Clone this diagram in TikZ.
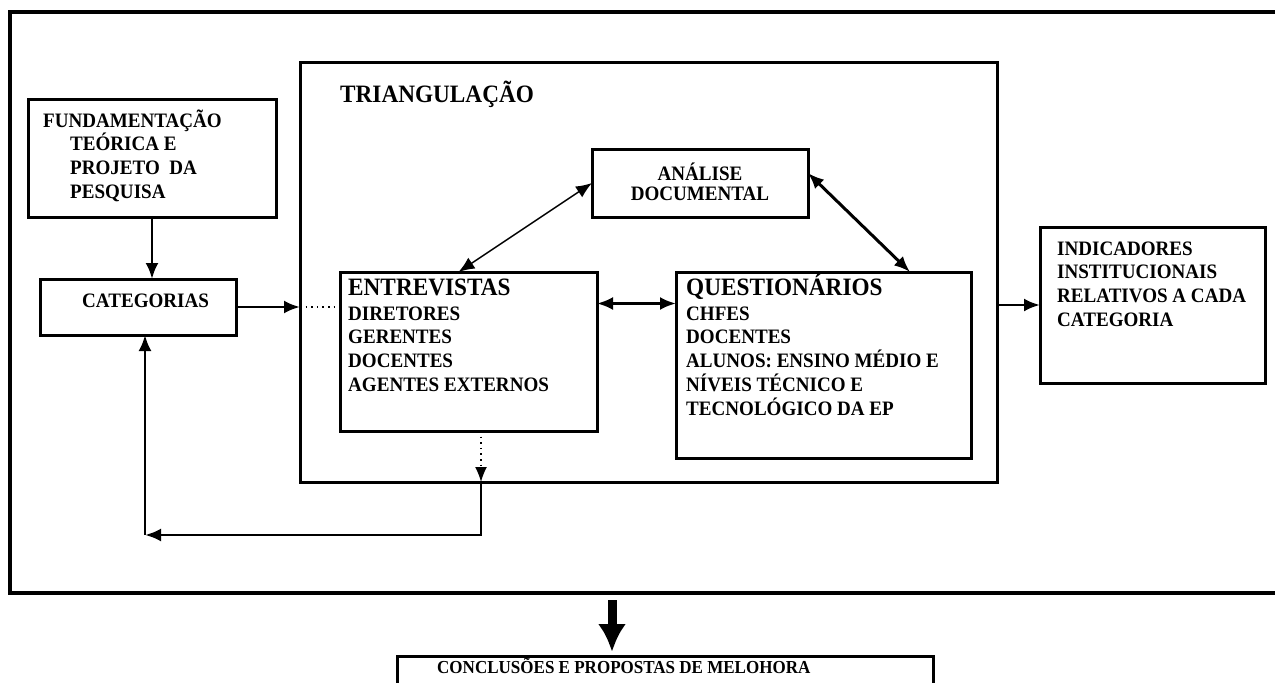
\documentclass[tikz,border=0pt]{standalone}
\usepackage{fontspec}
\setmainfont{Liberation Serif}[FakeStretch=0.93]
\usetikzlibrary{arrows.meta}
\newcommand{\firstline}{\rule{0pt}{1em}}

\begin{document}
\begin{tikzpicture}[x=1pt,y=-1pt,
  box/.style={draw, line width=3pt, inner sep=0pt, outer sep=0pt, anchor=north west},
  lbl/.style={inner sep=0pt, anchor=north west, align=left, font=\bfseries\fontsize{20.5}{23.7}\selectfont},
  head/.style={inner sep=0pt, anchor=north west, font=\bfseries\fontsize{25}{27}\selectfont},
  link/.style={line width=2.8pt, -{Latex[length=16pt,width=13pt]}},
  twoway/.style={line width=2.8pt, {Latex[length=16pt,width=13pt]}-{Latex[length=16pt,width=13pt]}},
  dots/.style={line width=1.5pt, dash pattern=on 1.6pt off 4pt}]
\useasboundingbox (0,0) rectangle (1275,683);
% outer frame, open on the right
\draw[line width=3.2pt] (1280,12) -- (10,12) -- (10,593) -- (1280,593);
% boxes
\node[box, minimum width=248pt, minimum height=118pt] (fund) at (28,99) {};
\node[box, minimum width=196pt, minimum height=56pt] (cat) at (40,279) {};
\node[box, minimum width=697pt, minimum height=420pt] (trig) at (300,62) {};
\node[box, minimum width=216pt, minimum height=68pt] (ana) at (592,149) {};
\node[box, minimum width=257pt, minimum height=159pt] (entrev) at (340,272) {};
\node[box, minimum width=295pt, minimum height=186pt] (quest) at (676,272) {};
\node[box, minimum width=225pt, minimum height=156pt] (ind) at (1040,227) {};
\node[box, minimum width=536pt, minimum height=60pt] (concl) at (397,656) {};
% texts
\node[lbl] (fundtxt) at (43,106.5) {\firstline FUNDAMENTAÇÃO\\\hspace*{27pt}TEÓRICA E\\\hspace*{27pt}PROJETO\ \ DA\\\hspace*{27pt}PESQUISA};
\node[lbl] (cattxt) at (82,286.5) {\firstline CATEGORIAS};
\node[head] (trigtxt) at (340,77) {\firstline TRIANGULAÇÃO};
\node[lbl, anchor=north, align=center, font=\bfseries\fontsize{20.5}{20.5}\selectfont] (anatxt) at (700,159.5) {\firstline ANÁLISE\\DOCUMENTAL};
\node[head] (entrevtit) at (348,270) {\firstline ENTREVISTAS};
\node[lbl] (entrevtxt) at (348,299.5) {\firstline DIRETORES\\GERENTES\\DOCENTES\\AGENTES EXTERNOS};
\node[head] (questtit) at (686,270) {\firstline QUESTIONÁRIOS};
\node[lbl] (questtxt) at (686,299.5) {\firstline CHFES\\DOCENTES\\ALUNOS: ENSINO MÉDIO E\\NÍVEIS TÉCNICO E\\TECNOLÓGICO DA EP};
\node[lbl] (indtxt) at (1057,234.5) {\firstline INDICADORES\\INSTITUCIONAIS\\RELATIVOS A CADA\\CATEGORIA};
\node[lbl, font=\bfseries\fontsize{18.3}{20}\selectfont] (concltxt) at (437,655) {\firstline CONCLUSÕES E PROPOSTAS DE MELOHORA};
% connectors
\draw[link] (fund.south) -- (fund.south |- cat.north);
\draw[link] (cat.east) -- (trig.west |- cat.east);
\draw[dots] (trig.west |- cat.east) -- (entrev.west |- cat.east);
\draw[twoway, line width=1.5pt] (ana.west) -- ([xshift=-10pt]entrev.north);
\draw[twoway, line width=3pt] ([yshift=10pt]ana.east) -- ([xshift=-61pt]quest.north east);
\draw[twoway] ([yshift=48pt]entrev.east) -- ([yshift=48pt]entrev.east -| quest.west);
\draw[link] (trig.east |- ind.west) -- (ind.west);
\coordinate (drop) at (481,482);
\coordinate (turn) at (481,535);
\coordinate (corner) at (145,535);
\draw[dots, -{Latex[length=15pt,width=12pt]}] (entrev.south -| drop) -- (drop);
\draw[link] (drop) -- (turn) -- (corner);
\draw[link] (corner) -- (corner |- cat.south);
\coordinate (down) at (612,600);
\draw[line width=9pt, -{Latex[length=28pt,width=28pt]}] (down) -- ([yshift=4pt]down |- concl.north);
\end{tikzpicture}
\end{document}
